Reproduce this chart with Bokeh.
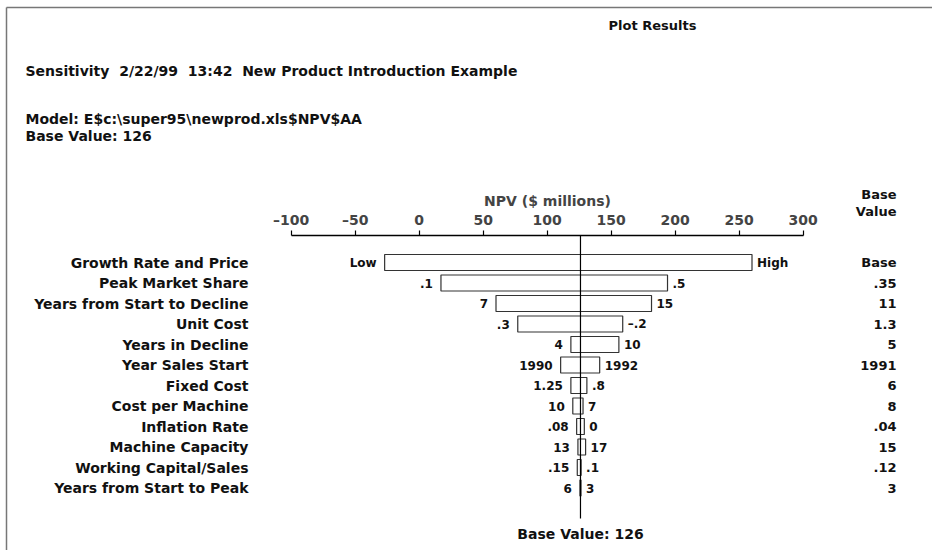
from bokeh.plotting import figure
from bokeh.models import Range1d, LinearAxis, FixedTicker, ColumnDataSource, Label
from bokeh.core.properties import value
from bokeh.embed import file_html
from bokeh.resources import INLINE

# ---------------- data ----------------
variables = ["Growth Rate and Price", "Peak Market Share", "Years from Start to Decline",
             "Unit Cost", "Years in Decline", "Year Sales Start", "Fixed Cost",
             "Cost per Machine", "Inflation Rate", "Machine Capacity",
             "Working Capital/Sales", "Years from Start to Peak"]
npv_left = [-27, 17, 60, 77, 118.5, 110.5, 118.5, 120, 123, 124, 123.5, 125.6]
npv_right = [260, 194, 181.5, 159, 156, 141, 131, 128, 129, 130, 126.5, 126.4]
left_labels = ["Low", ".1", "7", ".3", "4", "1990", "1.25", "10", ".08", "13", ".15", "6"]
right_labels = ["High", ".5", "15", "\u2013.2", "10", "1992", ".8", "7", "0", "17", ".1", "3"]
base_values = ["Base", ".35", "11", "1.3", "5", "1991", "6", "8", ".04", "15", ".12", "3"]
base_npv = 126
ticks = [-100, -50, 0, 50, 100, 150, 200, 250, 300]

# ---------------- layout helpers ----------------
W, H = 932, 550
PX_PER_UNIT = 1.28
ZERO_PX = 418.7
def px2x(px):
    return (px - ZERO_PX) / PX_PER_UNIT

ROW0, ROW_STEP = 262, 20.5
row_y = [ROW0 + ROW_STEP * i for i in range(len(variables))]
AXIS_Y = 235

FONT = value("DejaVu Sans")

p = figure(width=W, height=H, output_backend="svg", toolbar_location=None,
           x_range=Range1d(px2x(0), px2x(W)), y_range=Range1d(H, 0),
           x_axis_location=None, y_axis_location=None, min_border=0)
p.outline_line_color = None
p.grid.visible = False
p.background_fill_color = "white"
p.border_fill_color = "white"

# border of the page
p.segment(x0=[px2x(6), px2x(6)], y0=[7, 7], x1=[px2x(W), px2x(6)], y1=[7, H],
          line_color="#777777", line_width=1.5)

# axis
ax = LinearAxis(fixed_location=AXIS_Y, ticker=FixedTicker(ticks=ticks),
                bounds=(ticks[0], ticks[-1]))
ax.major_label_overrides = {t: (("\u2013" + str(-t)) if t < 0 else str(t)) for t in ticks}
ax.axis_label = "NPV ($ millions)"
ax.axis_label_text_font = "DejaVu Sans"
ax.axis_label_text_font_style = "bold"
ax.axis_label_text_font_size = "14px"
ax.axis_label_standoff = 0
ax.major_label_text_font = "DejaVu Sans"
ax.major_label_text_font_style = "bold"
ax.major_label_text_font_size = "14px"
ax.major_label_standoff = 3
ax.major_tick_out = 5
ax.major_tick_in = 0
ax.minor_tick_out = 0
ax.minor_tick_in = 0
ax.axis_line_color = "black"
ax.axis_line_width = 1.5
ax.major_tick_line_color = "black"
ax.major_tick_line_width = 1.2
p.add_layout(ax, "above")

src = ColumnDataSource(dict(var=variables, left=npv_left, right=npv_right, y=row_y,
                            ll=left_labels, rl=right_labels, bv=base_values))

# bars
p.hbar(y="y", left="left", right="right", height=16, source=src,
       fill_color="white", line_color="#333333", line_width=1.2)

# base line
p.segment(x0=[base_npv], y0=[AXIS_Y], x1=[base_npv], y1=[518], line_color="black", line_width=1.2)

# end labels
p.text(x="left", y="y", text="ll", source=src, text_align="right", text_baseline="middle",
       x_offset=-8, text_font=FONT, text_font_style="bold", text_font_size="12px", text_color="#111111")
p.text(x="right", y="y", text="rl", source=src, text_align="left", text_baseline="middle",
       x_offset=5, text_font=FONT, text_font_style="bold", text_font_size="12px", text_color="#111111")

# variable names
p.text(x=px2x(248), y="y", text="var", source=src, text_align="right", text_baseline="middle",
       text_font=FONT, text_font_style="bold", text_font_size="14px", text_color="#111111")

# base value column
p.text(x=px2x(896), y="y", text="bv", source=src, text_align="right", text_baseline="middle",
       text_font=FONT, text_font_style="bold", text_font_size="13px", text_color="#111111")
p.text(x=[px2x(896), px2x(896)], y=[194, 211], text=["Base", "Value"], text_align="right",
       text_baseline="middle", text_font=FONT, text_font_style="bold", text_font_size="13px",
       text_color="#111111")

# base value caption below the line
p.text(x=[base_npv], y=[533], text=["Base Value: %d" % base_npv], text_align="center",
       text_baseline="middle", text_font=FONT, text_font_style="bold", text_font_size="14px",
       text_color="#111111")

# header texts
def hdr(txt, px, py, size, align="left"):
    p.add_layout(Label(x=px2x(px), y=py, text=txt, text_align=align, text_baseline="middle",
                       text_font="DejaVu Sans", text_font_style="bold", text_font_size=size,
                       text_color="#111111"))

hdr("Plot Results", 652, 25, "13px", "center")
hdr("Sensitivity\u00a0 2/22/99\u00a0 13:42\u00a0 New Product Introduction Example", 25, 70, "14px")
hdr("Model: E$c:\\super95\\newprod.xls$NPV$AA", 25, 118, "14px")
hdr("Base Value: %d" % base_npv, 25, 135, "14px")

open("out.html", "w").write(file_html(p, INLINE))
